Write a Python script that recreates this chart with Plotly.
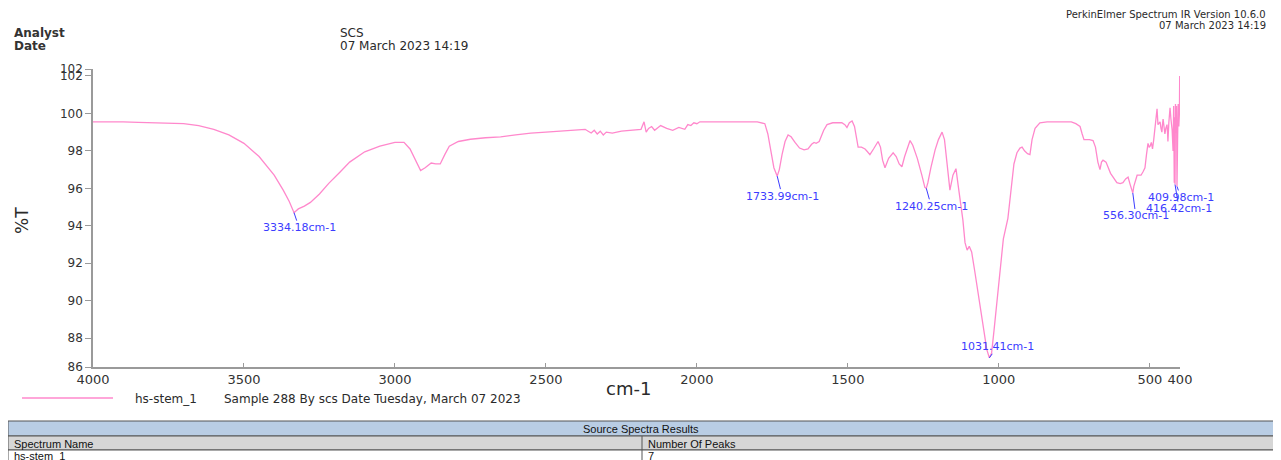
import plotly.graph_objects as go

# ---------------- data ----------------
wavenumber = [
    4000, 3950, 3900, 3850, 3800, 3750, 3700, 3650, 3600, 3550, 3500, 3450, 3400, 3370, 3350,
    3334.18, 3320, 3300, 3280, 3250, 3220, 3180, 3150, 3100, 3050, 3000, 2970, 2950, 2930, 2915,
    2900, 2880, 2865, 2850, 2835, 2820, 2790, 2750, 2700, 2650, 2600, 2550, 2500, 2450, 2400,
    2370, 2360, 2350, 2340, 2330, 2320, 2310, 2300, 2280, 2250, 2220, 2200, 2185, 2175, 2168,
    2160, 2150, 2140, 2120, 2100, 2080, 2060, 2040, 2030, 2020, 2010, 2000, 1990, 1950, 1900,
    1850, 1800, 1775, 1765, 1755, 1745, 1733.99, 1727, 1718, 1708, 1698, 1688, 1675, 1660, 1645,
    1632, 1620, 1612, 1605, 1595, 1580, 1569, 1550, 1520, 1510, 1503, 1495, 1486, 1478, 1470,
    1466, 1455, 1443, 1435, 1427, 1415, 1400, 1392, 1385, 1377, 1365, 1350, 1340, 1330, 1321,
    1312, 1300, 1294, 1285, 1270, 1255, 1245, 1240.25, 1235, 1225, 1211, 1200, 1188, 1180, 1172,
    1162, 1152, 1142, 1135, 1127, 1119, 1112, 1105, 1098, 1090, 1080, 1070, 1060, 1050, 1040,
    1031.41, 1024, 1016, 1006, 995, 985, 970, 960, 950, 940, 930, 923, 915, 905, 897,
    890, 880, 864, 840, 800, 760, 745, 731, 724, 718, 700, 688, 680, 672, 665,
    660, 655, 645, 630, 620, 609, 598, 589, 580, 572, 565, 556.30, 553, 548, 542,
    535, 529, 522, 516, 511, 506, 502, 499, 495, 491, 487, 483, 479, 476, 473,
    469, 466, 463, 460, 458, 456, 453, 450, 447, 443, 441, 440, 437, 433, 430,
    426, 423, 421, 419, 417.5, 416.42, 415, 413, 411.5, 409.98, 408, 406, 404, 402, 401,
]
transmittance = [
    99.55, 99.56, 99.55, 99.52, 99.50, 99.48, 99.45, 99.35, 99.15, 98.85, 98.40, 97.70, 96.70, 95.90, 95.30,
    94.70, 94.90, 95.05, 95.25, 95.70, 96.25, 96.90, 97.40, 97.95, 98.25, 98.45, 98.45, 98.10, 97.40, 96.95,
    97.10, 97.35, 97.30, 97.30, 97.80, 98.25, 98.50, 98.62, 98.70, 98.75, 98.85, 98.95, 99.00, 99.05, 99.10,
    99.15, 99.05, 98.95, 99.10, 98.90, 99.05, 98.85, 99.00, 98.95, 99.05, 99.10, 99.10, 99.15, 99.55, 99.00,
    99.20, 99.30, 99.10, 99.35, 99.20, 99.10, 99.25, 99.15, 99.40, 99.35, 99.50, 99.45, 99.55, 99.55, 99.56,
    99.55, 99.55, 99.45, 98.90, 98.00, 97.10, 96.65, 97.00, 97.80, 98.50, 98.85, 98.75, 98.45, 98.15, 98.05,
    98.10, 98.35, 98.45, 98.40, 98.50, 99.10, 99.40, 99.50, 99.50, 99.40, 99.25, 99.50, 99.60, 99.30, 98.60,
    98.20, 98.20, 98.10, 97.95, 97.80, 98.10, 98.50, 98.20, 97.50, 97.10, 97.60, 97.90, 97.70, 97.30, 97.15,
    97.70, 98.30, 98.55, 98.30, 97.60, 96.70, 96.05, 96.00, 96.30, 97.10, 98.05, 98.60, 99.00, 98.60, 97.50,
    95.90, 96.70, 97.05, 96.20, 95.20, 94.30, 93.10, 92.70, 92.90, 92.60, 91.60, 90.50, 89.40, 88.30, 87.40,
    86.95, 87.20, 88.40, 90.10, 92.00, 93.30, 94.40, 96.00, 97.30, 97.90, 98.15, 98.20, 98.00, 97.85, 97.80,
    98.60, 99.20, 99.50, 99.55, 99.55, 99.55, 99.45, 99.30, 98.90, 98.60, 98.60, 98.55, 98.20, 97.40, 97.00,
    97.40, 97.50, 97.40, 96.80, 96.55, 96.30, 96.25, 96.30, 96.50, 96.60, 96.20, 95.75, 96.10, 96.35, 96.70,
    96.70, 96.70, 96.90, 97.10, 97.80, 98.40, 98.20, 98.25, 98.45, 98.10, 98.60, 99.10, 99.80, 100.25, 99.40,
    99.50, 99.55, 99.20, 99.00, 99.40, 99.70, 99.30, 98.90, 99.20, 99.40, 98.90, 98.50, 99.50, 100.30, 99.70,
    99.10, 98.00, 100.40, 96.30, 99.80, 96.20, 100.50, 99.00, 100.40, 96.10, 98.50, 100.50, 99.30, 100.00, 102.00,
]

peak_wn = [3334.18, 1733.99, 1240.25, 1031.41, 556.30, 416.42, 409.98]
peak_T = [94.70, 96.65, 96.00, 86.95, 95.75, 96.20, 96.10]
peak_labels = [f"{w:.2f}cm-1" for w in peak_wn]

x_tickvals = [4000, 3500, 3000, 2500, 2000, 1500, 1000, 500, 400]
x_ticktext = ["4000", "3500", "3000", "2500", "2000", "1500", "1000", "500", "400"]
y_min, y_max = 86.46, 102.37
y_tickvals = [y_min, 88, 90, 92, 94, 96, 98, 100, 102, y_max]
y_ticktext = ["86", "88", "90", "92", "94", "96", "98", "100", "102", "102"]

spectrum_name = "hs-stem_1"
sample_info = "Sample 288 By scs Date Tuesday, March 07 2023"
number_of_peaks = "7"

# ---------------- layout helpers (page pixel -> paper) ----------------
W, H = 1281, 460
OFF = 8                       # page body margin
L, R, T, B = 93, 1180, 69, 367   # plot area in page pixels


def xp(px):
    return (px - L) / (R - L)


def yp(py):
    return (B - py) / (B - T)


PINK = "#ff88cc"
BLUE = "#3c3cff"
FONT = "DejaVu Sans"
TXT = "#2a2a2a"

fig = go.Figure()
fig.add_trace(go.Scatter(
    x=wavenumber, y=transmittance, mode="lines",
    line=dict(color=PINK, width=1.3), name=spectrum_name, showlegend=False,
    hoverinfo="x+y",
))

annotations = []
shapes = []

# peak labels with leader lines (offsets in pixels)
label_offsets = [(5, 15), (5, 20), (5, 18), (8, -11), (3, 23), (4, 24), (4, 11)]
for w, t, lab, (ax, ay) in zip(peak_wn, peak_T, peak_labels, label_offsets):
    annotations.append(dict(
        x=w, y=t, xref="x", yref="y", text=lab, showarrow=True,
        ax=ax, ay=ay, arrowhead=0, arrowwidth=1, arrowcolor=BLUE,
        font=dict(family=FONT, size=11, color=BLUE), borderpad=0,
    ))


def txt(px, py, s, size=12, anchor="left", color=TXT, family=FONT, weight="normal"):
    annotations.append(dict(
        x=xp(px), y=yp(py), xref="paper", yref="paper", text=s, showarrow=False,
        xanchor=anchor, yanchor="middle",
        font=dict(family=family, size=size, color=color, weight=weight),
    ))


# header texts
txt(12, 33, "Analyst", 12, weight="bold", color="#333")
txt(12, 46, "Date", 12, weight="bold", color="#333")
txt(338, 33, "SCS", 12)
txt(338, 46, "07 March 2023 14:19", 12)
txt(1268, 14, "PerkinElmer Spectrum IR Version 10.6.0", 10, anchor="right")
txt(1268, 25, "07 March 2023 14:19", 10, anchor="right")

# axis titles
txt(628, 388, "cm-1", 18, anchor="center")
annotations.append(dict(
    x=xp(22), y=yp(220), xref="paper", yref="paper", text="%T", showarrow=False,
    textangle=-90, xanchor="center", yanchor="middle",
    font=dict(family=FONT, size=17, color=TXT),
))

# legend
shapes.append(dict(type="line", xref="paper", yref="paper",
                   x0=xp(22), x1=xp(113), y0=yp(398), y1=yp(398),
                   line=dict(color=PINK, width=1.5)))
txt(133, 399, spectrum_name, 12)
txt(222, 399, sample_info, 12)

# table
TB = "#555555"


def rect(x0, y0, x1, y1, fill):
    shapes.append(dict(type="rect", xref="paper", yref="paper",
                       x0=xp(x0), x1=xp(x1), y0=yp(y0), y1=yp(y1),
                       fillcolor=fill, line=dict(color=TB, width=1)))


rect(8, 421, 1276, 436, "#b9cde4")
rect(8, 436, 1276, 450, "#d6d6d6")
rect(8, 450, 1276, 470, "#ffffff")
shapes.append(dict(type="line", xref="paper", yref="paper",
                   x0=xp(642), x1=xp(642), y0=yp(436), y1=yp(470),
                   line=dict(color=TB, width=1)))
TF = "Liberation Sans"
txt(641, 428.5, "Source Spectra Results", 11, anchor="center", family=TF, color="#111")
txt(12, 443.5, "Spectrum Name", 11, family=TF, color="#111")
txt(646, 443.5, "Number Of Peaks", 11, family=TF, color="#111")
txt(12, 456.5, spectrum_name, 11, family=TF, color="#111")
txt(646, 456.5, number_of_peaks, 11, family=TF, color="#111")

fig.update_layout(
    width=W - OFF, height=H - OFF,
    margin=dict(l=L - OFF, r=W - R, t=T - OFF, b=H - B, pad=0),
    paper_bgcolor="white", plot_bgcolor="white",
    showlegend=False,
    annotations=annotations, shapes=shapes,
    xaxis=dict(
        range=[4000, 400], tickmode="array", tickvals=x_tickvals, ticktext=x_ticktext,
        showgrid=False, zeroline=False, showline=True, linecolor="#9a9a9a", linewidth=1.5,
        ticks="inside", ticklen=4, tickcolor="#9a9a9a",
        tickfont=dict(family=FONT, size=13, color="#333"),
    ),
    yaxis=dict(
        range=[y_min, y_max], tickmode="array", tickvals=y_tickvals, ticktext=y_ticktext,
        showgrid=False, zeroline=False, showline=True, linecolor="#9a9a9a", linewidth=1.5,
        ticks="outside", ticklen=6, tickcolor="#9a9a9a",
        tickfont=dict(family=FONT, size=12, color="#333"),
    ),
)

fig.write_html("out.html")
